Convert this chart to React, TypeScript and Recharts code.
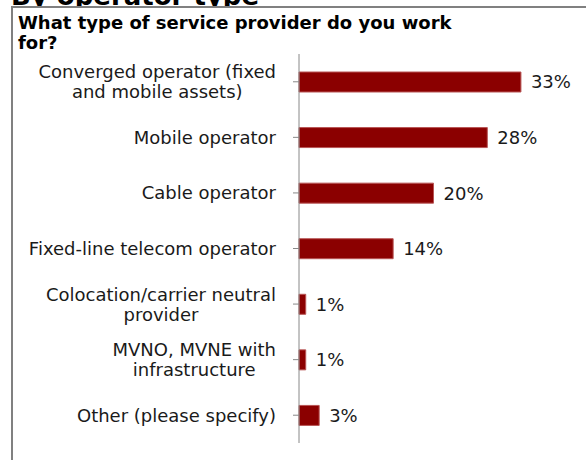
import React from "react";
import { BarChart, Bar, XAxis, YAxis, LabelList } from "recharts";

const categories = [
  "Converged operator (fixed\nand mobile assets)",
  "Mobile operator",
  "Cable operator",
  "Fixed-line telecom operator",
  "Colocation/carrier neutral\nprovider",
  "MVNO, MVNE with\ninfrastructure",
  "Other (please specify)",
];
const shares = [33, 28, 20, 14, 1, 1, 3];

const pageHeading = "By operator type";
const question = "What type of service provider do you work for?";

const data = categories.map((c, i) => ({ name: c, value: shares[i] }));

const FONT = "'DejaVu Sans', Verdana, sans-serif";
const TEXT = "#1a1a1a";

let ctx: CanvasRenderingContext2D | null = null;
function measure(s: string): number {
  if (!ctx) {
    const c = document.createElement("canvas");
    ctx = c.getContext("2d");
  }
  if (!ctx) return s.length * 10;
  ctx.font = "18px 'DejaVu Sans'";
  return ctx.measureText(s).width;
}

const CategoryTick = (props: any) => {
  const { x, y, payload } = props;
  const lines: string[] = String(payload.value).split("\n");
  const widths = lines.map(measure);
  const maxW = Math.max(...widths);
  const cx = x - maxW / 2;
  const lh = 20;
  const startY = y - ((lines.length - 1) * lh) / 2 + 6.5;
  return (
    <g>
      {lines.map((l, i) => (
        <text
          key={i}
          x={lines.length > 1 ? cx : x}
          y={startY + i * lh}
          textAnchor={lines.length > 1 ? "middle" : "end"}
          fontFamily={FONT}
          fontSize={18}
          fill={TEXT}
        >
          {l}
        </text>
      ))}
    </g>
  );
};

export default function App() {
  return (
    <div
      style={{
        position: "absolute",
        left: 0,
        top: 0,
        width: 586,
        height: 460,
        overflow: "hidden",
        background: "#fff",
      }}
    >
      <div
        style={{
          position: "absolute",
          left: 11,
          top: -17,
          fontFamily: FONT,
          fontWeight: "bold",
          fontSize: 26,
          lineHeight: "26px",
          color: "#000",
          whiteSpace: "nowrap",
        }}
      >
        {pageHeading}
      </div>
      <div
        style={{
          position: "absolute",
          left: 11,
          top: 6,
          width: 700,
          height: 600,
          borderTop: "2px solid #808080",
          borderLeft: "2px solid #808080",
          background: "#fff",
        }}
      />
      <div
        style={{
          position: "absolute",
          left: 18,
          top: 13,
          width: 450,
          fontFamily: FONT,
          fontWeight: "bold",
          fontSize: 18,
          lineHeight: "20px",
          color: "#000",
        }}
      >
        {question}
      </div>
      <div style={{ position: "absolute", left: 0, top: 0 }}>
        <BarChart
          width={586}
          height={460}
          data={data}
          layout="vertical"
          margin={{ top: 54, right: 18, bottom: 17, left: 0 }}
          barSize={20}
        >
          <XAxis type="number" domain={[0, 40]} hide />
          <YAxis
            type="category"
            dataKey="name"
            width={299}
            axisLine={{ stroke: "#888888" }}
            tickLine={{ stroke: "#888888" }}
            tickSize={6}
            tickMargin={17}
            tick={<CategoryTick />}
            interval={0}
          />
          <Bar
            dataKey="value"
            fill="#8b0000"
            stroke="#b85555"
            strokeWidth={1}
            isAnimationActive={false}
          >
            <LabelList
              dataKey="value"
              position="right"
              offset={10}
              formatter={(v: any) => `${v}%`}
              fill={TEXT}
              fontSize={18}
              fontFamily={FONT}
            />
          </Bar>
        </BarChart>
      </div>
    </div>
  );
}
